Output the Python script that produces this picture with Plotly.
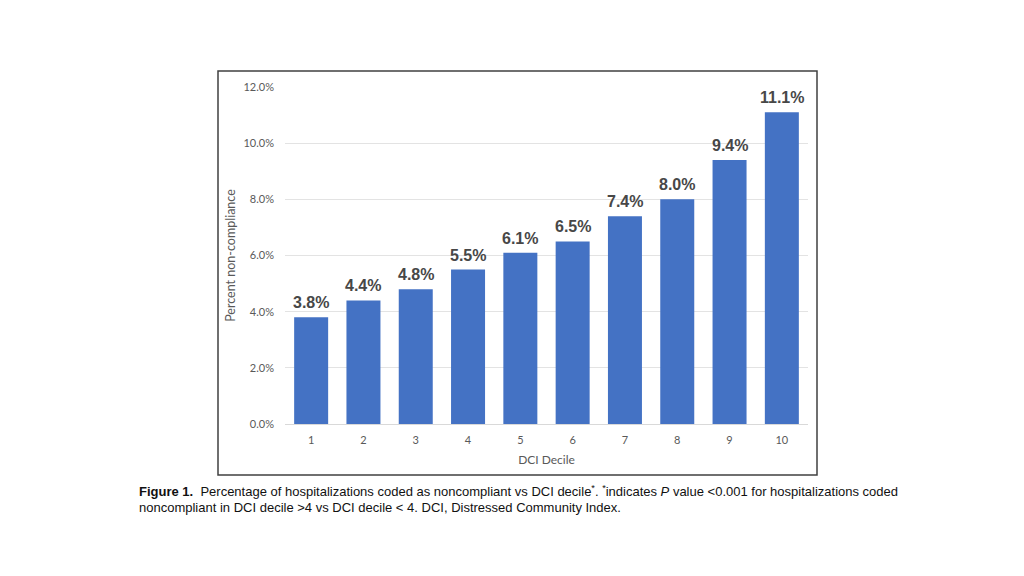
import plotly.graph_objects as go

deciles = ["1", "2", "3", "4", "5", "6", "7", "8", "9", "10"]
pct_noncompliance = [3.8, 4.4, 4.8, 5.5, 6.1, 6.5, 7.4, 8.0, 9.4, 11.1]
y_ticks = [0, 2, 4, 6, 8, 10, 12]
y_tick_labels = ["0.0%", "2.0%", "4.0%", "6.0%", "8.0%", "10.0%", "12.0%"]
value_labels = [f"{v:.1f}%" for v in pct_noncompliance]

caption_line1 = ("<b>Figure 1.</b>  Percentage of hospitalizations coded as noncompliant vs DCI decile<sup>*</sup>. "
                 "<sup>*</sup>indicates <i>P</i> value &lt;0.001 for hospitalizations coded")
caption_line2 = "noncompliant in DCI decile &gt;4 vs DCI decile &lt; 4. DCI, Distressed Community Index."

fig = go.Figure(go.Bar(
    x=deciles, y=pct_noncompliance,
    marker=dict(color="#4472C4", line=dict(width=0)),
    hoverinfo="x+y",
))

OFF = 8  # default page body margin
W, H = 1024, 576
L, R, T, B = 285 - OFF, 808 - OFF, 87 - OFF, 424 - OFF
pw, ph = R - L, B - T

def px(x):
    return (x - OFF - L) / pw

def py(y):
    return (B - (y - OFF)) / ph

# on a category axis, annotation x is given as the category's index
value_annotations = [
    dict(x=i, y=v, xref="x", yref="y", text=f"<b>{lab}</b>", showarrow=False,
         xanchor="center", yanchor="bottom", yshift=4,
         font=dict(family="Liberation Sans, Arial, sans-serif", size=16, color="#474747"))
    for i, (v, lab) in enumerate(zip(pct_noncompliance, value_labels))
]

fig.update_layout(
    width=W, height=H,
    margin=dict(l=L, r=W - R, t=T, b=H - B, pad=0),
    paper_bgcolor="white", plot_bgcolor="white",
    showlegend=False,
    bargap=0.35,
    font=dict(family="Lato, Open Sans, sans-serif", color="#595959"),
    xaxis=dict(
        type="category", showgrid=False, showline=False, ticks="",
        range=[-0.5, len(deciles) - 0.5],
        ticklabelstandoff=8,
        tickfont=dict(size=11, color="#595959"),
        title=dict(text="DCI Decile", font=dict(size=12, color="#595959"), standoff=10),
    ),
    yaxis=dict(
        range=[0, 12], tickvals=y_ticks, ticktext=y_tick_labels,
        showgrid=True, gridcolor="#E3E3E3", gridwidth=1,
        zeroline=True, zerolinecolor="#D9D9D9", zerolinewidth=1,
        showline=False, ticks="", ticklabelstandoff=10,
        tickfont=dict(size=11, color="#595959"),
        title=dict(text="Percent non-compliance", font=dict(size=12.5, color="#595959"), standoff=5),
    ),
    shapes=[dict(
        type="rect", xref="paper", yref="paper",
        x0=px(218), x1=px(817), y0=py(475), y1=py(71),
        line=dict(color="#404040", width=1.5), fillcolor="rgba(0,0,0,0)", layer="below",
    )],
    annotations=value_annotations + [
        dict(text=caption_line1, xref="paper", yref="paper", x=px(137), y=py(481),
             xanchor="left", yanchor="top", showarrow=False, align="left",
             font=dict(family="Liberation Sans, Arial, sans-serif", size=13, color="#111111")),
        dict(text=caption_line2, xref="paper", yref="paper", x=px(137), y=py(498),
             xanchor="left", yanchor="top", showarrow=False, align="left",
             font=dict(family="Liberation Sans, Arial, sans-serif", size=13, color="#111111")),
    ],
)

fig.write_html("out.html")
